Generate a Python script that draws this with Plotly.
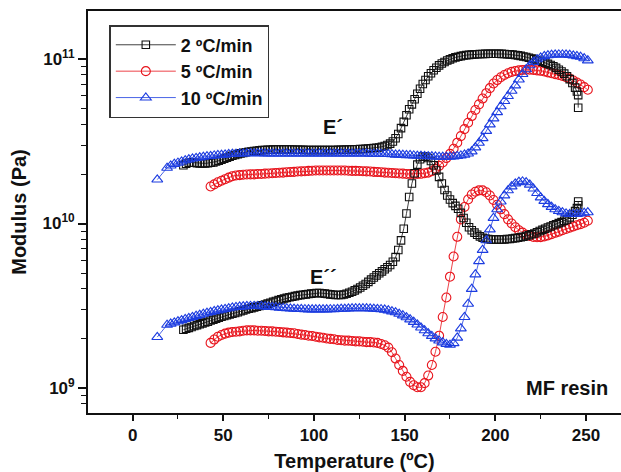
import plotly.graph_objects as go
import math

# ---------------- data: (temperature degC, modulus GPa) ----------------
rate_labels = ["2 ºC/min", "5 ºC/min", "10 ºC/min"]

# 2 ºC/min, storage modulus E'
rate2_storage = [
    (28, 22.6), (29.5, 23.1), (31, 23.4), (32.5, 23.5), (34, 23.4), (35.5, 23.3), (37, 23.2), (38.5, 23.2),
    (40, 23.2), (41.5, 23.3), (43, 23.4), (44.5, 23.5), (46, 23.8), (47.5, 24.1), (49, 24.4), (50.5, 24.8),
    (52, 25.1), (53.5, 25.5), (55, 25.8), (56.5, 26.1), (58, 26.4), (59.5, 26.7), (61, 26.9), (62.5, 27.1),
    (64, 27.3), (65.5, 27.4), (67, 27.6), (68.5, 27.7), (70, 27.9), (71.5, 28.0), (73, 28.0), (74.5, 28.1),
    (76, 28.1), (77.5, 28.2), (79, 28.2), (80.5, 28.2), (82, 28.2), (83.5, 28.2), (85, 28.2), (86.5, 28.2),
    (88, 28.2), (89.5, 28.1), (91, 28.1), (92.5, 28.1), (94, 28.1), (95.5, 28.0), (97, 28.0), (98.5, 28.0),
    (100, 28.0), (101.5, 28.0), (103, 28.0), (104.5, 28.0), (106, 28.0), (107.5, 28.0), (109, 28.0),
    (110.5, 28.0), (112, 28.0), (113.5, 28.1), (115, 28.1), (116.5, 28.1), (118, 28.2), (119.5, 28.2),
    (121, 28.2), (122.5, 28.3), (124, 28.3), (125.5, 28.4), (127, 28.4), (128.5, 28.5), (130, 28.6),
    (131.5, 28.7), (133, 28.8), (134.5, 28.9), (136, 29.0), (137.5, 29.3), (139, 29.6), (140.5, 30.0),
    (142, 30.6), (143.5, 31.5), (145, 33.0), (146.5, 35.0), (148, 38.0), (149.5, 41.5), (151, 45.5),
    (152.5, 49.5), (154, 53.0), (155.5, 57.0), (157, 61.5), (158.5, 66.0), (160, 70.5), (161.5, 74.5),
    (163, 78.5), (164.5, 82.0), (166, 85.5), (167.5, 88.5), (169, 91.5), (170.5, 94.0), (172, 96.0),
    (173.5, 98.0), (175, 99.5), (176.5, 101.0), (178, 102.3), (179.5, 103.3), (181, 104.2), (182.5, 105.0),
    (184, 105.6), (185.5, 106.0), (187, 106.4), (188.5, 106.8), (190, 107.0), (191.5, 107.2), (193, 107.4),
    (194.5, 107.5), (196, 107.6), (197.5, 107.7), (199, 107.7), (200.5, 107.7), (202, 107.6), (203.5, 107.5),
    (205, 107.3), (206.5, 107.0), (208, 106.7), (209.5, 106.3), (211, 105.8), (212.5, 105.2), (214, 104.5),
    (215.5, 103.7), (217, 102.8), (218.5, 101.9), (220, 100.8), (221.5, 99.8), (223, 98.7), (224.5, 97.6),
    (226, 96.3), (227.5, 95.0), (229, 93.5), (230.5, 92.0), (232, 90.3), (233.5, 88.3), (235, 86.0),
    (236.5, 84.0), (238, 81.5), (239.5, 78.5), (241, 75.5), (242.5, 71.5), (244, 67.0), (245, 63.5),
    (245.7, 60.3), (245.7, 50.6),
]
# 2 ºC/min, loss modulus E''
rate2_loss = [
    (28, 2.26), (29.5, 2.29), (31, 2.32), (32.5, 2.35), (34, 2.38), (35.5, 2.41), (37, 2.44), (38.5, 2.47),
    (40, 2.50), (41.5, 2.53), (43, 2.57), (44.5, 2.60), (46, 2.64), (47.5, 2.68), (49, 2.71), (50.5, 2.74),
    (52, 2.77), (53.5, 2.80), (55, 2.83), (56.5, 2.86), (58, 2.89), (59.5, 2.93), (61, 2.96), (62.5, 3.00),
    (64, 3.03), (65.5, 3.06), (67, 3.09), (68.5, 3.12), (70, 3.15), (71.5, 3.18), (73, 3.22), (74.5, 3.26),
    (76, 3.30), (77.5, 3.34), (79, 3.38), (80.5, 3.42), (82, 3.46), (83.5, 3.50), (85, 3.53), (86.5, 3.56),
    (88, 3.59), (89.5, 3.62), (91, 3.65), (92.5, 3.67), (94, 3.69), (95.5, 3.71), (97, 3.73), (98.5, 3.75),
    (100, 3.77), (101.5, 3.78), (103, 3.78), (104.5, 3.77), (106, 3.75), (107.5, 3.73), (109, 3.71),
    (110.5, 3.69), (112, 3.68), (113.5, 3.68), (115, 3.68), (116.5, 3.70), (118, 3.74), (119.5, 3.79),
    (121, 3.85), (122.5, 3.92), (124, 4.00), (125.5, 4.08), (127, 4.18), (128.5, 4.29), (130, 4.42),
    (131.5, 4.56), (133, 4.70), (134.5, 4.84), (136, 4.98), (137.5, 5.12), (139, 5.27), (140.5, 5.42),
    (142, 5.60), (143.5, 5.85), (145, 6.25), (146.5, 6.90), (148, 7.90), (149.5, 9.30), (151, 11.5),
    (152.5, 14.5), (154, 17.5), (155.5, 20.2), (157, 22.8), (158.5, 24.6), (160, 25.5), (161.5, 25.5),
    (163, 25.0), (164.5, 24.0), (166, 22.6), (167.5, 21.0), (169, 19.2), (170.5, 17.5), (172, 16.0),
    (173.5, 14.8), (175, 14.0), (176.5, 13.3), (178, 12.8), (179.5, 12.3), (181, 11.6), (182.5, 10.8),
    (184, 10.1), (185.5, 9.5), (187, 9.1), (188.5, 8.8), (190, 8.55), (191.5, 8.35), (193, 8.2),
    (194.5, 8.1), (196, 8.05), (197.5, 8.0), (199, 8.0), (200.5, 8.0), (202, 8.0), (203.5, 8.0), (205, 8.0),
    (206.5, 8.05), (208, 8.05), (209.5, 8.1), (211, 8.15), (212.5, 8.2), (214, 8.25), (215.5, 8.3),
    (217, 8.4), (218.5, 8.5), (220, 8.6), (221.5, 8.7), (223, 8.85), (224.5, 9.0), (226, 9.15),
    (227.5, 9.3), (229, 9.45), (230.5, 9.6), (232, 9.75), (233.5, 9.9), (235, 10.05), (236.5, 10.2),
    (238, 10.4), (239.5, 10.6), (241, 10.9), (242.5, 11.3), (244, 11.9), (245, 12.4), (245.7, 12.9),
    (245.7, 13.6),
]

# 5 ºC/min, E'
rate5_storage = [
    (43, 16.8), (45, 17.3), (47, 17.8), (49, 18.2), (51, 18.6), (53, 19.0), (55, 19.4), (57, 19.6), (59, 19.7),
    (61, 19.8), (63, 19.85), (65, 19.9), (67, 19.9), (69, 20.0), (71, 20.0), (73, 20.1), (75, 20.15),
    (77, 20.2), (79, 20.3), (81, 20.35), (83, 20.4), (85, 20.5), (87, 20.55), (89, 20.6), (91, 20.7),
    (93, 20.75), (95, 20.8), (97, 20.9), (99, 20.95), (101, 21.0), (103, 21.0), (105, 21.0), (107, 21.0),
    (109, 21.0), (111, 21.0), (113, 21.0), (115, 21.0), (117, 21.0), (119, 20.95), (121, 20.9), (123, 20.9),
    (125, 20.85), (127, 20.8), (129, 20.75), (131, 20.7), (133, 20.6), (135, 20.55), (137, 20.5), (139, 20.4),
    (141, 20.35), (143, 20.3), (145, 20.2), (147, 20.15), (149, 20.1), (151, 20.0), (153, 20.0), (155, 20.0),
    (157, 20.0), (159, 20.05), (161, 20.2), (163, 20.4), (165, 20.8), (167, 21.5), (169, 22.4), (171, 23.5),
    (173, 25.0), (175, 26.5), (177, 28.5), (179, 31.0), (181, 34.0), (183, 37.5), (185, 41.0), (187, 45.0),
    (189, 49.0), (191, 53.0), (193, 57.5), (195, 62.0), (197, 66.5), (199, 71.0), (201, 74.5), (203, 77.5),
    (205, 80.0), (207, 82.0), (209, 83.5), (211, 84.5), (213, 85.3), (215, 85.8), (217, 86.0), (219, 86.0),
    (221, 85.8), (223, 85.3), (225, 84.8), (227, 84.0), (229, 83.0), (231, 82.0), (233, 81.0), (235, 80.0),
    (237, 78.8), (239, 77.5), (241, 76.0), (243, 74.0), (245, 72.0), (247, 70.0), (249, 67.5), (251, 65.0),
]
# 5 ºC/min, E''
rate5_loss = [
    (43, 1.88), (45, 1.97), (47, 2.05), (49, 2.10), (51, 2.14), (53, 2.17), (55, 2.19), (57, 2.20), (59, 2.21),
    (61, 2.23), (63, 2.24), (65, 2.24), (67, 2.24), (69, 2.23), (71, 2.23), (73, 2.22), (75, 2.21), (77, 2.21),
    (79, 2.20), (81, 2.19), (83, 2.18), (85, 2.17), (87, 2.16), (89, 2.15), (91, 2.13), (93, 2.11), (95, 2.10),
    (97, 2.08), (99, 2.07), (101, 2.05), (103, 2.03), (105, 2.02), (107, 2.00), (109, 1.99), (111, 1.98),
    (113, 1.96), (115, 1.95), (117, 1.94), (119, 1.94), (121, 1.93), (123, 1.92), (125, 1.92), (127, 1.91),
    (129, 1.90), (131, 1.90), (133, 1.89), (135, 1.88), (137, 1.85), (139, 1.82), (141, 1.76), (143, 1.65),
    (145, 1.51), (147, 1.38), (149, 1.27), (151, 1.17), (153, 1.09), (155, 1.04), (157, 1.01), (159, 1.01),
    (161, 1.07), (163, 1.19), (165, 1.38), (167, 1.66), (169, 2.08), (171, 2.70), (173, 3.55), (175, 4.75),
    (177, 6.30), (179, 8.30), (181, 10.6), (183, 12.6), (185, 14.0), (187, 15.0), (189, 15.6), (191, 15.9),
    (193, 15.9), (195, 15.5), (197, 14.8), (199, 13.9), (201, 13.0), (203, 12.2), (205, 11.4), (207, 10.6),
    (209, 10.0), (211, 9.5), (213, 9.1), (215, 8.8), (217, 8.55), (219, 8.4), (221, 8.28), (223, 8.25),
    (225, 8.27), (227, 8.35), (229, 8.47), (231, 8.62), (233, 8.78), (235, 8.92), (237, 9.1), (239, 9.27),
    (241, 9.42), (243, 9.6), (245, 9.77), (247, 9.92), (249, 10.1), (251, 10.4),
]

# 10 ºC/min, E'
rate10_storage = [
    (13.6, 18.5), (19, 21.8), (21, 22.5), (23, 23.0), (25, 23.4), (27, 23.8), (29, 24.2), (31, 24.5),
    (33, 24.8), (35, 25.0), (37, 25.2), (39, 25.4), (41, 25.6), (43, 25.7), (45, 25.9), (47, 26.0),
    (49, 26.1), (51, 26.2), (53, 26.4), (55, 26.5), (57, 26.5), (59, 26.6), (61, 26.6), (63, 26.7),
    (65, 26.7), (67, 26.7), (69, 26.7), (71, 26.7), (73, 26.6), (75, 26.6), (77, 26.6), (79, 26.6),
    (81, 26.6), (83, 26.6), (85, 26.6), (87, 26.6), (89, 26.6), (91, 26.6), (93, 26.6), (95, 26.6),
    (97, 26.6), (99, 26.6), (101, 26.6), (103, 26.6), (105, 26.6), (107, 26.6), (109, 26.6), (111, 26.6),
    (113, 26.6), (115, 26.6), (117, 26.6), (119, 26.6), (121, 26.6), (123, 26.6), (125, 26.6), (127, 26.6),
    (129, 26.6), (131, 26.5), (133, 26.5), (135, 26.5), (137, 26.5), (139, 26.4), (141, 26.4), (143, 26.3),
    (145, 26.2), (147, 26.2), (149, 26.1), (151, 26.0), (153, 26.0), (155, 25.9), (157, 25.8), (159, 25.8),
    (161, 25.7), (163, 25.6), (165, 25.6), (167, 25.5), (169, 25.4), (171, 25.4), (173, 25.4), (175, 25.4),
    (177, 25.5), (179, 25.7), (181, 25.9), (183, 26.2), (185, 26.6), (187, 27.4), (189, 29.0), (191, 30.9),
    (193, 33.0), (195, 36.5), (197, 40.0), (199, 43.5), (201, 47.5), (203, 51.5), (205, 55.5), (207, 59.5),
    (209, 64.0), (211, 69.0), (213, 75.0), (215, 81.0), (217, 86.5), (219, 91.5), (221, 96.0), (223, 99.5),
    (225, 102.0), (227, 104.0), (229, 105.2), (231, 106.0), (233, 106.3), (235, 106.5), (237, 106.5),
    (239, 106.3), (241, 105.8), (243, 105.0), (245, 104.0), (247, 103.0), (249, 101.0), (251, 98.0),
]
# 10 ºC/min, E''
rate10_loss = [
    (13.6, 2.04), (19, 2.42), (21, 2.46), (23, 2.50), (25, 2.54), (27, 2.58), (29, 2.62), (31, 2.66),
    (33, 2.70), (35, 2.74), (37, 2.78), (39, 2.82), (41, 2.86), (43, 2.89), (45, 2.93), (47, 2.96),
    (49, 2.99), (51, 3.02), (53, 3.05), (55, 3.08), (57, 3.10), (59, 3.12), (61, 3.13), (63, 3.14),
    (65, 3.15), (67, 3.15), (69, 3.15), (71, 3.14), (73, 3.13), (75, 3.11), (77, 3.10), (79, 3.09),
    (81, 3.07), (83, 3.06), (85, 3.05), (87, 3.04), (89, 3.03), (91, 3.02), (93, 3.02), (95, 3.01),
    (97, 3.00), (99, 3.00), (101, 3.00), (103, 3.00), (105, 3.00), (107, 3.00), (109, 3.01), (111, 3.01),
    (113, 3.02), (115, 3.03), (117, 3.03), (119, 3.04), (121, 3.05), (123, 3.05), (125, 3.05), (127, 3.05),
    (129, 3.05), (131, 3.04), (133, 3.03), (135, 3.02), (137, 3.01), (139, 2.99), (141, 2.96), (143, 2.92),
    (145, 2.88), (147, 2.82), (149, 2.76), (151, 2.69), (153, 2.61), (155, 2.52), (157, 2.43), (159, 2.33),
    (161, 2.24), (163, 2.15), (165, 2.07), (167, 2.00), (169, 1.94), (171, 1.89), (173, 1.85), (175, 1.83),
    (177, 1.87), (179, 2.02), (181, 2.30), (183, 2.70), (185, 3.25), (187, 4.0), (189, 4.9), (191, 5.9),
    (193, 6.9), (195, 7.9), (197, 9.2), (199, 10.8), (201, 12.2), (203, 13.6), (205, 14.8), (207, 15.9),
    (209, 16.8), (211, 17.5), (213, 17.9), (215, 18.0), (217, 17.8), (219, 17.2), (221, 16.3), (223, 15.3),
    (225, 14.4), (227, 13.7), (229, 13.1), (231, 12.6), (233, 12.2), (235, 11.9), (237, 11.7), (239, 11.5),
    (241, 11.4), (243, 11.4), (245, 11.4), (247, 11.5), (249, 11.6), (251, 11.7),
]

x_tick_vals = [0, 50, 100, 150, 200, 250]
y_tick_vals = [1e9, 1e10, 1e11]
y_tick_text = ["10<sup>9</sup>", "10<sup>10</sup>", "10<sup>11</sup>"]

GPA = 1e9


def split(pairs):
    return [p[0] for p in pairs], [p[1] * GPA for p in pairs]


# ---------------- styling ----------------
FONT = "Arial, Liberation Sans, Helvetica, sans-serif"
colors = {"2": "#111111", "5": "#e8141c", "10": "#1c3ce0"}
symbols = {"2": "square-open", "5": "circle-open", "10": "triangle-up-open"}
sizes = {"2": 7.5, "5": 9, "10": 9.5}

series = [
    ("5", rate_labels[1], rate5_storage, rate5_loss, 2),
    ("2", rate_labels[0], rate2_storage, rate2_loss, 1),
    ("10", rate_labels[2], rate10_storage, rate10_loss, 3),
]

fig = go.Figure()
for key, label, storage, loss, rank in series:
    for i, pairs in enumerate([storage, loss]):
        tx, ey = split(pairs)
        fig.add_trace(go.Scatter(
            x=tx, y=ey, mode="lines+markers", name=label,
            legendgroup=key, showlegend=(i == 0), legendrank=rank,
            line=dict(color=colors[key], width=0.8),
            marker=dict(symbol=symbols[key], size=sizes[key],
                        color=colors[key], line=dict(color=colors[key], width=1.1)),
        ))

minor_y = [k * 10.0 ** e for e in (8, 9, 10, 11) for k in range(2, 10)]

fig.update_layout(
    width=621, height=472,
    margin=dict(l=88, r=0, t=11, b=59),
    paper_bgcolor="white", plot_bgcolor="white",
    font=dict(family=FONT, color="#111111"),
    showlegend=True,
    legend=dict(
        x=0.04, y=0.965, xanchor="left", yanchor="top",
        bordercolor="#333333", borderwidth=1.5, bgcolor="white",
        font=dict(family=FONT, size=18, color="#111111", weight="bold"),
        itemwidth=60, tracegroupgap=10, traceorder="normal",
    ),
    xaxis=dict(
        range=[-24.6, 269.3], tickvals=x_tick_vals, ticks="outside", ticklen=6, tickwidth=1.5,
        tickcolor="#111111", showline=True, linecolor="#111111", linewidth=1.8, mirror=True,
        showgrid=False, zeroline=False,
        tickfont=dict(family=FONT, size=17, color="#111111", weight="bold"),
        minor=dict(dtick=25, tick0=0, ticks="outside", ticklen=4, tickwidth=1.3, tickcolor="#111111"),
        title=dict(text="Temperature (ºC)", standoff=10,
                   font=dict(family=FONT, size=20, color="#111111", weight="bold")),
    ),
    yaxis=dict(
        type="log", range=[8.848, 11.292], tickvals=y_tick_vals, ticktext=y_tick_text,
        ticks="outside", ticklen=8, tickwidth=1.5, tickcolor="#111111",
        showline=True, linecolor="#111111", linewidth=1.8, mirror=False,
        showgrid=False, zeroline=False,
        tickfont=dict(family=FONT, size=17, color="#111111", weight="bold"),
        minor=dict(tickvals=minor_y, ticks="outside", ticklen=5, tickwidth=1.3, tickcolor="#111111"),
        title=dict(text="Modulus (Pa)", standoff=11,
                   font=dict(family=FONT, size=20, color="#111111", weight="bold")),
    ),
)

fig.add_annotation(x=110.5, y=math.log10(3.87e10), text="E´", showarrow=False,
                   font=dict(family=FONT, size=20, color="#111111", weight="bold"))
fig.add_annotation(x=105.5, y=math.log10(4.73e9), text="E´´", showarrow=False,
                   font=dict(family=FONT, size=20, color="#111111", weight="bold"))
fig.add_annotation(x=263.5, y=9.0, text="MF resin", showarrow=False, xanchor="right",
                   font=dict(family=FONT, size=20, color="#111111", weight="bold"))

fig.write_html("out.html")
